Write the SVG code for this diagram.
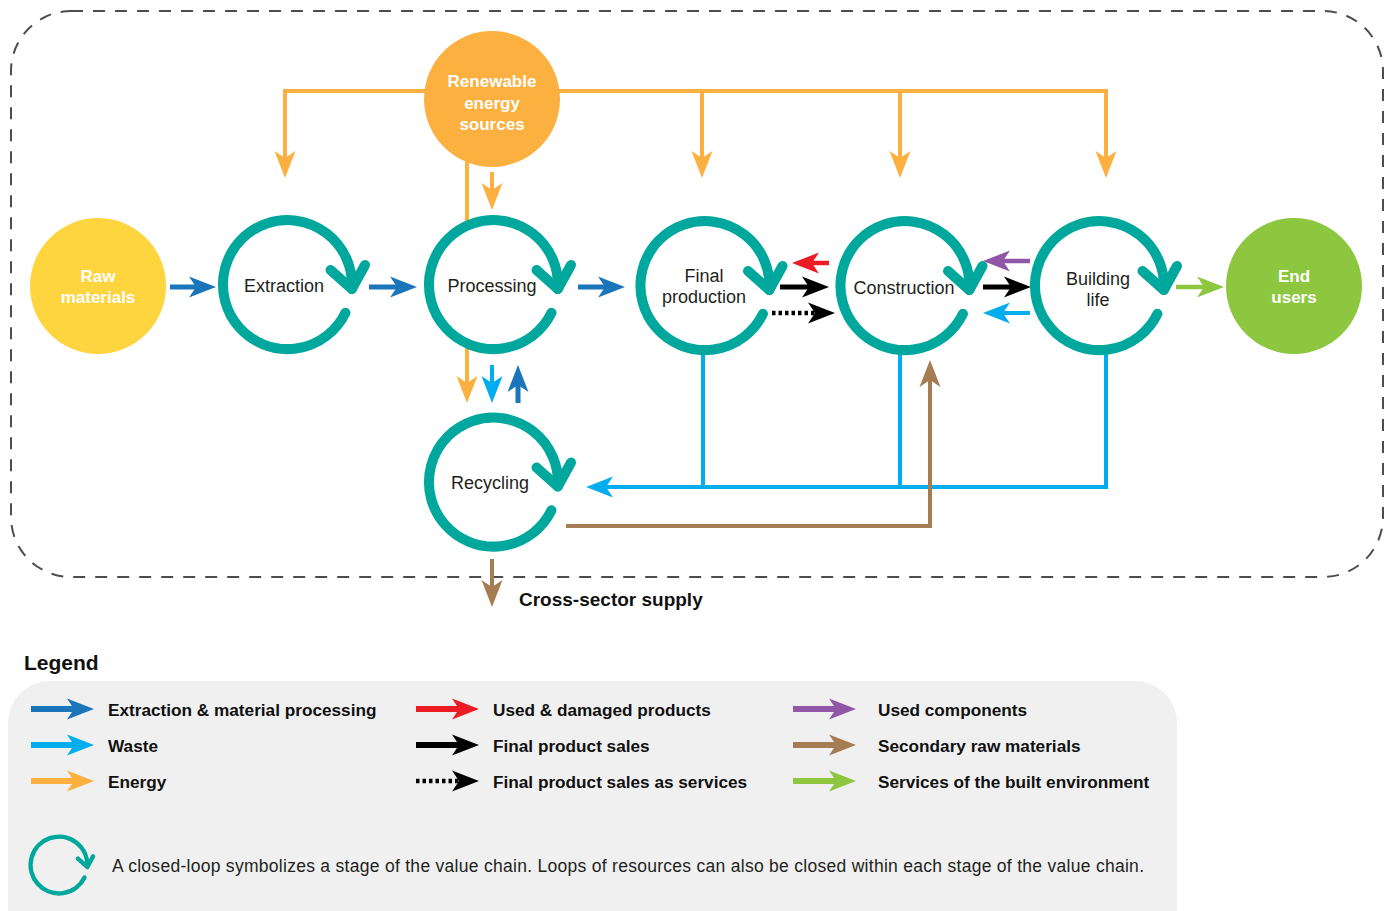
<svg xmlns="http://www.w3.org/2000/svg" xmlns:xlink="http://www.w3.org/1999/xlink" width="1391" height="911" viewBox="0 0 1391 911">
<style>
.lbl{font-family:"Liberation Sans",Arial,sans-serif;font-size:18px;fill:#231F20;text-anchor:middle}
.wl{font-family:"Liberation Sans",Arial,sans-serif;font-size:17px;font-weight:bold;fill:#fff;text-anchor:middle}
.lg{font-family:"Liberation Sans",Arial,sans-serif;font-size:17.2px;font-weight:bold;fill:#111}
.c{fill:none;stroke-linejoin:miter}
.db{stroke:#1B75BB;stroke-width:5;marker-end:url(#mdb)}
.lb{stroke:#00AEEF;stroke-width:4}
.lbm{marker-end:url(#mlb)}
.or{stroke:#FBB040;stroke-width:4}
.orm{marker-end:url(#mor)}
.rd{stroke:#ED1C24;stroke-width:4.5;marker-end:url(#mrd)}
.bk{stroke:#000;stroke-width:5;marker-end:url(#mbk)}
.dt{stroke:#000;stroke-width:4.5;stroke-dasharray:3.5 3;marker-end:url(#mbk)}
.pu{stroke:#9057A6;stroke-width:4.5;marker-end:url(#mpu)}
.br{stroke:#A67C52;stroke-width:4}
.brm{marker-end:url(#mbr)}
.gr{stroke:#8DC63F;stroke-width:4.5;marker-end:url(#mgr)}
.loop{fill:none;stroke:#00A79D;stroke-width:10;stroke-linecap:round;stroke-linejoin:round}
</style>
<defs>
<path id="ah" d="M0,-10.5 L27,0 L0,10.5 L7,0 Z"/>
<marker id="mdb" markerUnits="userSpaceOnUse" markerWidth="30" markerHeight="30" refX="15" refY="0" orient="auto" overflow="visible"><use xlink:href="#ah" fill="#1B75BB"/></marker>
<marker id="mlb" markerUnits="userSpaceOnUse" markerWidth="30" markerHeight="30" refX="15" refY="0" orient="auto" overflow="visible"><use xlink:href="#ah" fill="#00AEEF"/></marker>
<marker id="mor" markerUnits="userSpaceOnUse" markerWidth="30" markerHeight="30" refX="15" refY="0" orient="auto" overflow="visible"><use xlink:href="#ah" fill="#FBB040"/></marker>
<marker id="mrd" markerUnits="userSpaceOnUse" markerWidth="30" markerHeight="30" refX="15" refY="0" orient="auto" overflow="visible"><use xlink:href="#ah" fill="#ED1C24"/></marker>
<marker id="mbk" markerUnits="userSpaceOnUse" markerWidth="30" markerHeight="30" refX="15" refY="0" orient="auto" overflow="visible"><use xlink:href="#ah" fill="#000"/></marker>
<marker id="mpu" markerUnits="userSpaceOnUse" markerWidth="30" markerHeight="30" refX="15" refY="0" orient="auto" overflow="visible"><use xlink:href="#ah" fill="#9057A6"/></marker>
<marker id="mbr" markerUnits="userSpaceOnUse" markerWidth="30" markerHeight="30" refX="15" refY="0" orient="auto" overflow="visible"><use xlink:href="#ah" fill="#A67C52"/></marker>
<marker id="mgr" markerUnits="userSpaceOnUse" markerWidth="30" markerHeight="30" refX="15" refY="0" orient="auto" overflow="visible"><use xlink:href="#ah" fill="#8DC63F"/></marker>
<g id="loopsym" class="loop">
<path d="M57.97,28.28 A64.5,64.5 0 1 1 64.3,4.5"/>
<path d="M43,-14.5 L64.3,4.5 L77.5,-19.5"/>
</g>
</defs>
<rect width="1391" height="911" fill="#fff"/>
<rect x="11" y="11" width="1372" height="566" rx="60" fill="none" stroke="#4D4D4D" stroke-width="2" stroke-dasharray="12 10"/>

<g id="connectors">
<!-- energy -->
<path class="c or orm" d="M492,91 H285 V166"/>
<path class="c or orm" d="M492,91 H1106 V166"/>
<path class="c or orm" d="M702,91 V166"/>
<path class="c or orm" d="M900,91 V166"/>
<path class="c or orm" d="M492,172 V198"/>
<path class="c or" d="M467,150 V221"/>
<path class="c or orm" d="M467,348 V391"/>
<!-- extraction & processing -->
<path class="c db" d="M170,287 H204"/>
<path class="c db" d="M369,287 H405"/>
<path class="c db" d="M578,287 H613"/>
<path class="c db" d="M518,403 V377"/>
<!-- waste -->
<path class="c lb lbm" d="M492,365 V391"/>
<path class="c lb lbm" d="M1030,313 H995"/>
<path class="c lb" d="M703,350 V487"/>
<path class="c lb" d="M900,350 V487"/>
<path class="c lb lbm" d="M1106,350 V487 H598"/>
<!-- products -->
<path class="c rd" d="M829,263 H804"/>
<path class="c bk" d="M780,287 H817"/>
<path class="c dt" d="M772,313 H823"/>
<path class="c bk" d="M983,287 H1019"/>
<path class="c pu" d="M1030,261 H995"/>
<path class="c gr" d="M1176,287 H1212"/>
<!-- secondary raw materials -->
<path class="c br brm" d="M566,526 H930 V372"/>
<path class="c br brm" d="M492,559 V595"/>
</g>

<g id="node-raw">
<circle cx="98" cy="286" r="68" fill="#FED43F"/>
<text class="wl" x="98" y="282">Raw</text>
<text class="wl" x="98" y="303">materials</text>
</g>
<g id="node-renewable">
<circle cx="492" cy="99" r="68" fill="#FBB040"/>
<text class="wl" x="492" y="87">Renewable</text>
<text class="wl" x="492" y="109">energy</text>
<text class="wl" x="492" y="130">sources</text>
</g>
<g id="node-end">
<circle cx="1294" cy="286" r="68" fill="#8DC63F"/>
<text class="wl" x="1294" y="282">End</text>
<text class="wl" x="1294" y="303">users</text>
</g>
<g id="node-extraction">
<use xlink:href="#loopsym" transform="translate(287.5,284.5)"/>
<text class="lbl" x="284" y="292">Extraction</text>
</g>
<g id="node-processing">
<use xlink:href="#loopsym" transform="translate(493.5,284.5)"/>
<text class="lbl" x="492" y="292">Processing</text>
</g>
<g id="node-final">
<use xlink:href="#loopsym" transform="translate(705,285.5)"/>
<text class="lbl" x="704" y="282">Final</text>
<text class="lbl" x="704" y="303">production</text>
</g>
<g id="node-construction">
<use xlink:href="#loopsym" transform="translate(905,285.5)"/>
<text class="lbl" x="904" y="294">Construction</text>
</g>
<g id="node-building">
<use xlink:href="#loopsym" transform="translate(1099.5,285.5)"/>
<text class="lbl" x="1098" y="285">Building</text>
<text class="lbl" x="1098" y="306">life</text>
</g>
<g id="node-recycling">
<use xlink:href="#loopsym" transform="translate(493.5,482)"/>
<text class="lbl" x="490" y="489">Recycling</text>
</g>
<g id="label-cross">
<text class="lg" x="519" y="606" style="font-size:19px">Cross-sector supply</text>
</g>

<g id="legend">
<text class="lg" x="24" y="670" style="font-size:21px">Legend</text>
<rect x="8" y="681" width="1169" height="270" rx="42" fill="#F0F0F0"/>
<path class="c db" d="M31,709 H82" style="stroke-width:6"/>
<path class="c lb lbm" d="M31,745 H82" style="stroke-width:6"/>
<path class="c or orm" d="M31,781 H82" style="stroke-width:6"/>
<text class="lg" x="108" y="716">Extraction &amp; material processing</text>
<text class="lg" x="108" y="752">Waste</text>
<text class="lg" x="108" y="788">Energy</text>
<path class="c rd" d="M416,709 H467" style="stroke-width:6"/>
<path class="c bk" d="M416,745 H467" style="stroke-width:6"/>
<path class="c dt" d="M416,781 H467"/>
<text class="lg" x="493" y="716">Used &amp; damaged products</text>
<text class="lg" x="493" y="752">Final product sales</text>
<text class="lg" x="493" y="788">Final product sales as services</text>
<path class="c pu" d="M793,709 H844" style="stroke-width:6"/>
<path class="c br brm" d="M793,745 H844" style="stroke-width:6"/>
<path class="c gr" d="M793,781 H844" style="stroke-width:6"/>
<text class="lg" x="878" y="716">Used components</text>
<text class="lg" x="878" y="752">Secondary raw materials</text>
<text class="lg" x="878" y="788">Services of the built environment</text>
<use xlink:href="#loopsym" transform="translate(59,865) scale(0.44)"/>
<text x="112" y="872" textLength="1032" lengthAdjust="spacing" style="font-family:'Liberation Sans',Arial,sans-serif;font-size:17.5px;fill:#231F20">A closed-loop symbolizes a stage of the value chain. Loops of resources can also be closed within each stage of the value chain.</text>
</g>
</svg>
